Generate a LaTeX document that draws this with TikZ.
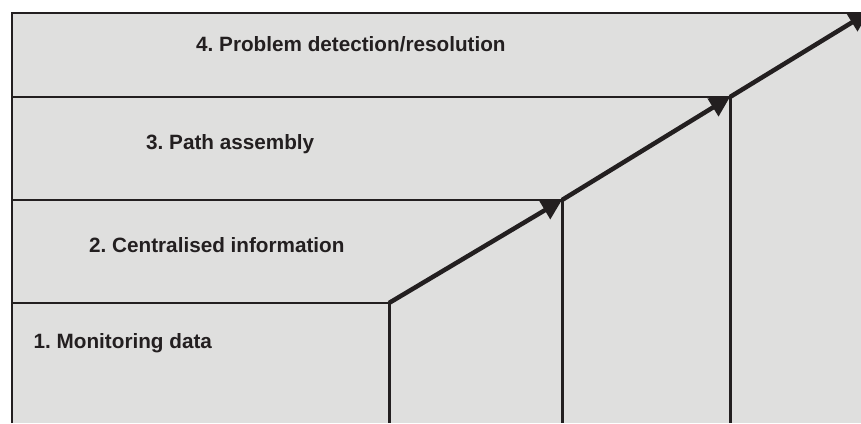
\documentclass[tikz,border=0pt]{standalone}
\usepackage{fontspec}
\setmainfont{Liberation Sans}
\usetikzlibrary{arrows.meta}
\definecolor{bggrey}{HTML}{DFDFDE}
\definecolor{ink}{HTML}{231F20}
\tikzset{
  frameline/.style={draw=ink, line width=2.8pt},
  stepline/.style={draw=ink, line width=3pt},
  steparrow/.style={draw=ink, line width=4.5pt, -{Triangle[length=20pt,width=20pt]}},
  steplabel/.style={anchor=base west, inner sep=0pt, font=\fontsize{20.7pt}{24pt}\selectfont\bfseries, text=ink}
}
\frenchspacing
\begin{document}
\begin{tikzpicture}[x=1pt,y=-1pt]
\useasboundingbox (0,0) rectangle (861,423);
\fill[white] (0,0) rectangle (861,423);
\fill[bggrey] (12,13) rectangle (861,423);
% corners of the staircase
\coordinate (top) at (12,13);
\coordinate (topR) at (861,13);
\coordinate (bot) at (12,423);
\coordinate (c1) at (389,303);
\coordinate (c2) at (562,200);
\coordinate (c3) at (730,97);
\coordinate (c4) at (869,12);
\coordinate (b1) at (389,423);
\coordinate (b2) at (562,423);
\coordinate (b3) at (730,423);
\coordinate (l1) at (12,303);
\coordinate (l2) at (12,200);
\coordinate (l3) at (12,97);
% frame
\draw[frameline] (bot) -- (top) -- (topR);
\draw[frameline] (l3) -- (c3);
\draw[frameline] (l2) -- (c2);
\draw[frameline] (l1) -- (c1);
\draw[stepline] (c1) -- (b1);
\draw[stepline] (c2) -- (b2);
\draw[stepline] (c3) -- (b3);
% arrows
\draw[steparrow] (c1) -- (c2);
\draw[steparrow] (c2) -- (c3);
\draw[steparrow] (c3) -- (c4);
% labels
\node[steplabel] (s4) at (196,51.7) {4. Problem detection/resolution};
\node[steplabel] (s3) at (146,149) {3. Path assembly};
\node[steplabel] (s2) at (89,252.3) {2. Centralised information};
\node[steplabel] (s1) at (33.5,348) {1. Monitoring data};
\end{tikzpicture}
\end{document}
